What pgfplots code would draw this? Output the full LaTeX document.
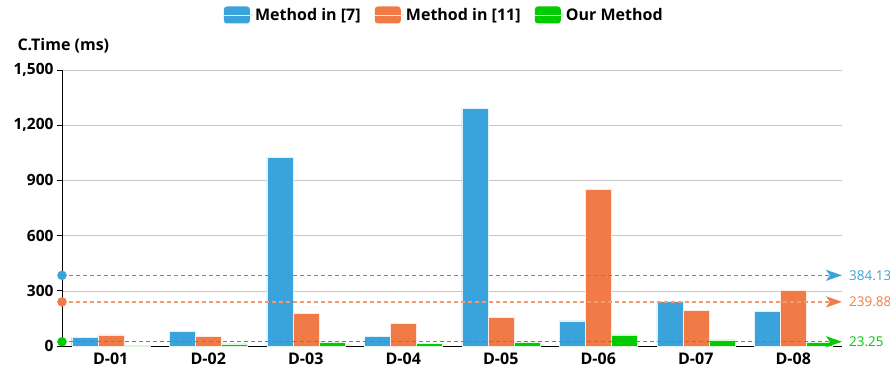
\documentclass[border=0pt]{standalone}
\usepackage{pgfplots}
\pgfplotsset{compat=1.18}
\usepackage{fontspec}
\setmainfont{Open Sans}
\usetikzlibrary{arrows.meta}
\definecolor{cblue}{HTML}{3AA3DB}
\definecolor{corange}{HTML}{F07B46}
\definecolor{cgreen}{HTML}{00CC00}
\definecolor{lblue}{HTML}{4A95C8}
\definecolor{lorange}{HTML}{F49A70}
\definecolor{lgreen}{HTML}{22BB22}
\begin{document}
\begin{tikzpicture}
\useasboundingbox (-62pt,-24pt) rectangle (828pt,346pt);
\begin{axis}[
  at={(0,0)}, anchor=south west,
  scale only axis, width=780pt, height=276pt,
  xmin=-0.5, xmax=7.5, ymin=0, ymax=1500,
  clip=false,
  axis x line*=bottom, axis y line*=left,
  axis line style={black, line width=0.8pt},
  xtick={0,...,7},
  xticklabels={D-01,D-02,D-03,D-04,D-05,D-06,D-07,D-08},
  major x tick style={draw=none},
  extra x ticks={-0.5,0.5,1.5,2.5,3.5,4.5,5.5,6.5,7.5},
  extra x tick labels={},
  extra x tick style={major tick length=6pt, tick align=outside, tick style={black, line width=0.8pt}, grid=none},
  ytick={0,300,600,900,1200,1500},
  ymajorgrids, grid style={black!22, line width=0.6pt},
  tick align=outside, major tick length=5pt,
  y tick style={black, line width=0.8pt},
  /pgf/number format/assume math mode=true,
  /pgf/number format/1000 sep={,},
  tick label style={font=\bfseries\fontsize{15.5}{15.5}\selectfont},
  x tick label style={font=\bfseries\fontsize{16}{16}\selectfont, inner sep=1pt, yshift=-1pt},
  legend style={at={(0.49,1)}, anchor=center, yshift=55pt, draw=none,
    font=\bfseries\fontsize{16}{16}\selectfont, legend columns=3,
    /tikz/every even column/.append style={column sep=12pt}},
  legend image code/.code={\fill[#1, draw=none, rounded corners=3pt] (0pt,-8.5pt) rectangle (26pt,8.5pt);
     \path (0pt,0pt) -- (29pt,0pt);},
]
\addplot[ybar, bar width=26pt, bar shift=-26pt, fill=cblue, draw=white!85!cblue, line width=0.4pt]
  coordinates {(0,47) (1,78) (2,1027) (3,54) (4,1293) (5,136) (6,241) (7,190)};
\addplot[ybar, bar width=26pt, bar shift=0pt, fill=corange, draw=white!85!corange, line width=0.4pt]
  coordinates {(0,60) (1,51) (2,178) (3,123) (4,156) (5,853) (6,193) (7,304)};
\addplot[ybar, bar width=26pt, bar shift=26pt, fill=cgreen, draw=white!85!cgreen, line width=0.4pt]
  coordinates {(0,5) (1,11) (2,23) (3,13) (4,22) (5,60) (6,33) (7,19)};
\legend{Method in [7], Method in [11], Our Method}

% mean lines
\addplot[forget plot, mark=none, draw=lblue, line width=1.5pt, dash pattern=on 4pt off 3pt,
  -{Stealth[length=16pt, width=11pt, inset=4pt, fill=cblue, color=cblue]}]
  coordinates {(-0.5,384.13) (7.5,384.13)}
  node[pos=1, anchor=west, xshift=3pt, text=cblue, font=\fontsize{13.5}{13.5}\selectfont] {384.13};
\addplot[forget plot, mark=none, draw=lorange, line width=1.5pt, dash pattern=on 4pt off 3pt,
  -{Stealth[length=16pt, width=11pt, inset=4pt, fill=corange, color=corange]}]
  coordinates {(-0.5,239.88) (7.5,239.88)}
  node[pos=1, anchor=west, xshift=3pt, text=corange, font=\fontsize{13.5}{13.5}\selectfont] {239.88};
\addplot[forget plot, mark=none, draw=lgreen, line width=1.5pt, dash pattern=on 4pt off 3pt,
  -{Stealth[length=16pt, width=11pt, inset=4pt, fill=cgreen, color=cgreen]}]
  coordinates {(-0.5,23.25) (7.5,23.25)}
  node[pos=1, anchor=west, xshift=3pt, text=cgreen, font=\fontsize{13.5}{13.5}\selectfont] {23.25};
\addplot[only marks, forget plot, mark=*, mark size=4.5pt, mark options={fill=cblue, draw=cblue}]
  coordinates {(-0.5,384.13)};
\addplot[only marks, forget plot, mark=*, mark size=4.5pt, mark options={fill=corange, draw=corange}]
  coordinates {(-0.5,239.88)};
\addplot[only marks, forget plot, mark=*, mark size=4.5pt, mark options={fill=cgreen, draw=cgreen}]
  coordinates {(-0.5,23.25)};

\node[anchor=west, xshift=-48pt, yshift=24pt, font=\bfseries\fontsize{16}{16}\selectfont]
  at (rel axis cs:0,1) {C.Time (ms)};
\end{axis}
\end{tikzpicture}
\end{document}
